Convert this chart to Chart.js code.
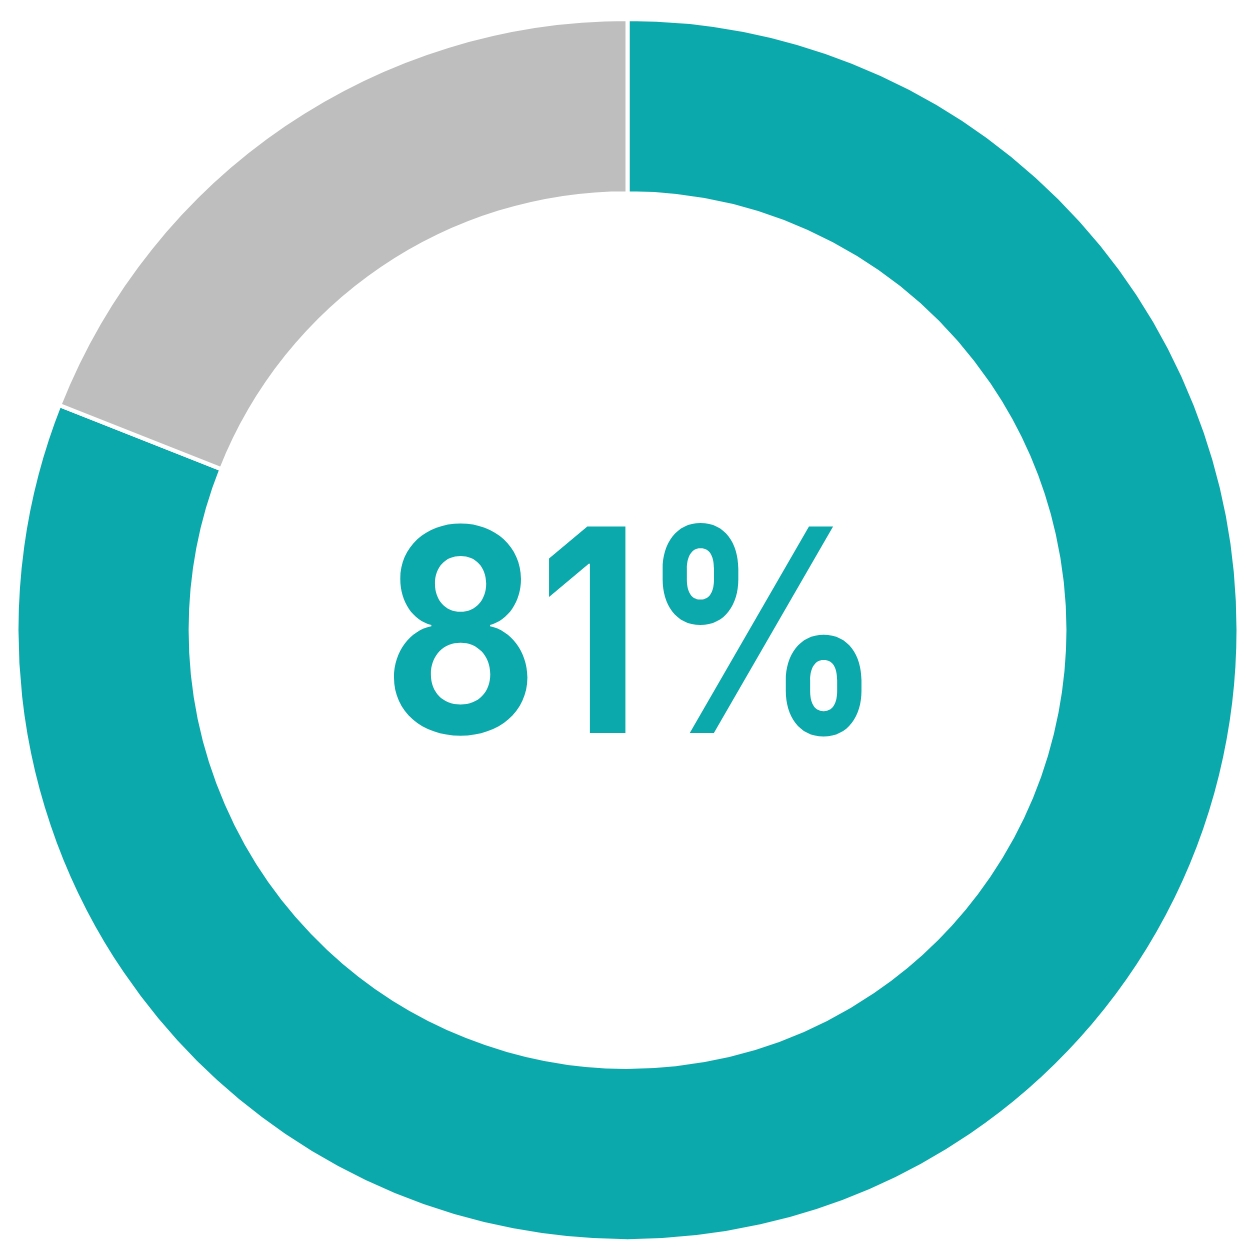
<!DOCTYPE html>
<html lang="en">
<head>
    <meta charset="UTF-8">
    <title>81%</title>
    <script src="https://cdn.jsdelivr.net/npm/chart.js"></script>
    <style>
        html, body { margin: 0; padding: 0; background: #fff; }
        #wrap { width: 1255px; height: 1254px; }
    </style>
</head>
<body>
    <div id="wrap"><canvas id="myChart"></canvas></div>

    <script>
        const labels = ['Yes', 'No'];
        const values = [81, 19];
        const colors = ['#0CA9AC', '#BEBEBE'];
        const centerLabel = '81%';

        // draw the big percentage in the hole, squeezed a bit to match the narrow face
        const centerText = {
            id: 'centerText',
            afterDraw(chart) {
                const ctx = chart.ctx;
                const meta = chart.getDatasetMeta(0).data[0];
                ctx.save();
                ctx.fillStyle = colors[0];
                ctx.font = '700 284px Inter';
                ctx.textAlign = 'left';
                ctx.textBaseline = 'alphabetic';
                const m = ctx.measureText(centerLabel);
                const inkW = m.actualBoundingBoxLeft + m.actualBoundingBoxRight;
                const sx = 474 / inkW;
                ctx.translate(meta.x, meta.y + 103);
                ctx.scale(sx, 1);
                ctx.fillText(centerLabel, -inkW / 2 + m.actualBoundingBoxLeft, 0);
                ctx.restore();
            }
        };

        const ctx = document.getElementById('myChart').getContext('2d');
        new Chart(ctx, {
            type: 'doughnut',
            data: {
                labels: labels,
                datasets: [{
                    data: values,
                    backgroundColor: colors,
                    borderColor: '#ffffff',
                    borderWidth: 4
                }]
            },
            options: {
                responsive: true,
                maintainAspectRatio: false,
                animation: false,
                cutout: '71.5%',
                layout: { padding: { top: 17, bottom: 11, left: 14, right: 14 } },
                plugins: {
                    legend: { display: false },
                    tooltip: { enabled: false }
                }
            },
            plugins: [centerText]
        });
    </script>
</body>
</html>
